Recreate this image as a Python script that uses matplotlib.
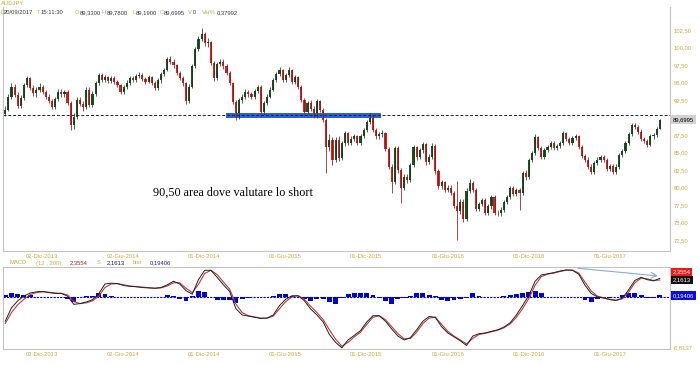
import matplotlib
matplotlib.use('Agg')
import matplotlib.pyplot as plt
import matplotlib.transforms as mtrans
import matplotlib.dates as mdates
import numpy as np
import pandas as pd

# weekly candles (AUDJPY, Sep 2013 - Sep 2017)
opens = [90.5, 91.1, 93.0, 94.4, 93.2, 91.6, 92.8, 94.6, 95.6, 94.2,
         93.5, 93.9, 94.4, 93.6, 93.0, 92.4, 91.5, 92.6, 93.7, 93.4,
         93.6, 92.1, 88.9, 90.1, 92.5, 92.0, 91.5, 94.0, 91.8, 93.4,
         94.9, 96.1, 95.4, 95.8, 95.2, 95.6, 95.1, 94.6, 93.6, 94.4,
         95.0, 95.6, 95.4, 95.9, 96.1, 95.5, 95.1, 95.8, 95.0, 94.2,
         95.3, 96.2, 96.8, 98.4, 98.0, 97.5, 96.4, 95.6, 94.9, 92.4,
         94.4, 97.4, 99.8, 101.2, 102.0, 100.6, 100.8, 97.8, 95.6, 97.6,
         98.0, 97.3, 96.4, 94.9, 92.2, 90.0, 92.5, 92.9, 93.7, 93.4,
         93.0, 93.8, 94.4, 90.8, 92.1, 93.0, 94.0, 95.4, 96.2, 96.8,
         95.4, 96.1, 96.8, 95.1, 95.8, 94.4, 92.5, 90.8, 92.1, 91.2,
         90.2, 92.3, 91.1, 89.6, 85.8, 86.8, 84.0, 86.8, 84.2, 86.3,
         87.8, 86.4, 86.9, 87.3, 86.4, 87.4, 88.2, 89.4, 90.1, 88.2,
         87.3, 87.6, 87.8, 85.5, 83.0, 80.8, 85.6, 82.5, 80.0, 81.5,
         81.1, 83.2, 85.8, 84.4, 85.3, 86.2, 83.6, 84.4, 86.0, 82.3,
         80.2, 80.8, 79.6, 80.0, 79.2, 77.4, 76.6, 78.0, 75.5, 79.5,
         80.6, 79.6, 76.9, 77.6, 78.2, 76.4, 77.3, 78.7, 76.4, 76.3,
         76.8, 77.9, 78.7, 79.9, 79.1, 79.6, 79.2, 82.1, 81.5, 83.9,
         84.9, 87.2, 85.6, 84.4, 85.4, 85.8, 86.4, 85.6, 85.9, 86.4,
         87.8, 86.9, 86.4, 87.1, 87.3, 85.8, 84.5, 84.0, 83.0, 82.2,
         83.5, 84.0, 84.3, 83.9, 82.6, 83.1, 82.2, 83.0, 84.6, 85.2,
         86.4, 87.6, 88.9, 88.6, 88.0, 86.9, 86.6, 86.1, 87.3, 87.5, 88.4]
highs = [91.6, 93.4, 94.9, 94.8, 93.6, 93.2, 95.0, 96.0, 95.8, 94.6,
         94.3, 94.9, 94.7, 93.9, 93.3, 92.7, 92.9, 94.1, 94.1, 94.0,
         93.9, 92.4, 90.6, 92.9, 93.0, 92.4, 94.4, 94.3, 93.8, 95.2,
         96.4, 96.3, 96.1, 96.0, 95.9, 95.9, 95.3, 94.8, 94.7, 95.3,
         95.9, 95.9, 96.2, 96.5, 96.3, 95.8, 96.1, 96.0, 95.2, 95.6,
         96.5, 97.1, 98.6, 98.8, 98.3, 97.7, 96.7, 95.9, 95.1, 94.8,
         97.7, 100.1, 101.6, 102.8, 102.2, 101.3, 101.0, 98.1, 98.0, 98.4,
         98.3, 97.6, 96.7, 95.1, 92.5, 92.8, 93.3, 94.1, 94.0, 93.7,
         94.1, 94.7, 94.6, 92.4, 93.3, 94.3, 95.7, 96.5, 97.2, 97.0,
         96.4, 97.2, 97.0, 96.1, 96.0, 94.6, 92.8, 92.4, 92.5, 91.6,
         92.6, 92.5, 91.4, 90.0, 87.6, 87.2, 87.2, 87.3, 86.7, 88.1,
         88.0, 87.3, 87.6, 87.5, 87.7, 88.5, 89.7, 90.6, 90.3, 88.5,
         88.0, 88.2, 88.0, 85.8, 83.3, 86.0, 85.9, 82.8, 81.9, 82.0,
         83.5, 86.1, 86.0, 85.6, 86.5, 86.4, 84.8, 86.3, 86.2, 82.6,
         81.1, 81.0, 80.4, 80.3, 79.5, 81.0, 78.4, 78.3, 79.9, 81.2,
         80.9, 79.9, 77.9, 78.5, 78.5, 77.6, 79.0, 78.9, 76.8, 77.2,
         78.2, 79.0, 80.2, 80.2, 79.9, 80.0, 82.4, 82.5, 84.2, 85.2,
         87.6, 87.4, 85.9, 85.7, 86.1, 86.7, 86.7, 86.2, 86.7, 88.1,
         88.0, 87.2, 87.4, 87.6, 87.5, 86.1, 84.8, 84.3, 83.3, 83.8,
         84.3, 84.6, 84.6, 84.2, 83.4, 83.4, 83.3, 84.9, 85.5, 86.7,
         87.9, 89.2, 89.2, 88.9, 88.3, 87.2, 86.9, 87.6, 87.8, 88.7, 89.8]
lows = [90.2, 90.9, 92.7, 93.0, 91.3, 91.3, 92.5, 94.3, 93.9, 93.1,
        93.0, 93.6, 93.3, 92.7, 92.1, 91.2, 91.2, 92.4, 93.0, 93.0,
        91.8, 88.2, 88.4, 89.8, 91.6, 91.0, 91.2, 91.5, 91.5, 93.1,
        94.6, 95.1, 95.1, 94.9, 95.0, 94.8, 94.3, 93.3, 93.3, 94.1,
        94.7, 95.1, 95.1, 95.6, 95.2, 94.8, 94.9, 94.7, 93.9, 93.9,
        95.0, 95.9, 96.6, 97.6, 97.1, 96.1, 95.3, 94.5, 91.9, 92.1,
        94.2, 97.1, 99.5, 100.9, 100.2, 100.1, 97.5, 95.2, 95.3, 97.3,
        96.9, 96.1, 94.6, 91.9, 89.6, 89.8, 92.1, 92.6, 93.0, 92.6,
        92.7, 93.5, 90.4, 90.5, 91.8, 92.8, 93.8, 95.1, 95.9, 95.1,
        95.1, 95.8, 94.8, 94.8, 94.1, 92.2, 90.5, 90.5, 90.9, 89.9,
        89.9, 90.8, 89.3, 82.1, 85.2, 83.2, 83.7, 83.8, 83.9, 86.0,
        86.1, 86.1, 86.6, 86.1, 86.1, 87.1, 87.9, 89.1, 87.9, 87.0,
        86.9, 87.2, 85.2, 82.6, 79.2, 80.5, 82.1, 77.8, 79.6, 80.7,
        80.8, 82.9, 84.0, 84.1, 85.0, 83.2, 83.3, 84.1, 82.0, 79.8,
        79.8, 79.3, 79.3, 78.9, 77.1, 72.5, 76.2, 75.1, 75.2, 79.2,
        79.3, 76.6, 76.6, 77.3, 76.1, 76.1, 77.0, 76.1, 75.9, 76.0,
        76.5, 77.6, 78.4, 78.8, 78.8, 76.8, 79.0, 81.1, 81.2, 83.6,
        84.6, 85.3, 84.1, 84.1, 85.1, 85.5, 85.3, 85.3, 85.6, 86.1,
        86.6, 86.1, 86.1, 86.8, 85.5, 84.2, 83.7, 82.7, 81.9, 81.9,
        83.2, 83.7, 83.6, 82.3, 82.3, 81.9, 81.9, 82.7, 84.3, 84.9,
        86.1, 87.3, 88.3, 87.7, 86.6, 86.3, 85.8, 85.9, 87.0, 87.2, 88.3]
closes = [91.1, 93.0, 94.4, 93.2, 91.6, 92.8, 94.6, 95.6, 94.2, 93.5,
          93.9, 94.4, 93.6, 93.0, 92.4, 91.5, 92.6, 93.7, 93.4, 93.6,
          92.1, 88.9, 90.1, 92.5, 92.0, 91.5, 94.0, 91.8, 93.4, 94.9,
          96.1, 95.4, 95.8, 95.2, 95.6, 95.1, 94.6, 93.6, 94.4, 95.0,
          95.6, 95.4, 95.9, 96.1, 95.5, 95.1, 95.8, 95.0, 94.2, 95.3,
          96.2, 96.8, 98.4, 98.0, 97.5, 96.4, 95.6, 94.9, 92.4, 94.4,
          97.4, 99.8, 101.2, 102.0, 100.6, 100.8, 97.8, 95.6, 97.6, 98.0,
          97.3, 96.4, 94.9, 92.2, 90.0, 92.5, 92.9, 93.7, 93.4, 93.0,
          93.8, 94.4, 90.8, 92.1, 93.0, 94.0, 95.4, 96.2, 96.8, 95.4,
          96.1, 96.8, 95.1, 95.8, 94.4, 92.5, 90.8, 92.1, 91.2, 90.2,
          92.3, 91.1, 89.6, 85.8, 86.8, 84.0, 86.8, 84.2, 86.3, 87.8,
          86.4, 86.9, 87.3, 86.4, 87.4, 88.2, 89.4, 90.1, 88.2, 87.3,
          87.6, 87.8, 85.5, 83.0, 80.8, 85.6, 82.5, 80.0, 81.5, 81.1,
          83.2, 85.8, 84.4, 85.3, 86.2, 83.6, 84.4, 86.0, 82.3, 80.2,
          80.8, 79.6, 80.0, 79.2, 77.4, 76.6, 78.0, 75.5, 79.5, 80.6,
          79.6, 76.9, 77.6, 78.2, 76.4, 77.3, 78.7, 76.4, 76.3, 76.8,
          77.9, 78.7, 79.9, 79.1, 79.6, 79.2, 82.1, 81.5, 83.9, 84.9,
          87.2, 85.6, 84.4, 85.4, 85.8, 86.4, 85.6, 85.9, 86.4, 87.8,
          86.9, 86.4, 87.1, 87.3, 85.8, 84.5, 84.0, 83.0, 82.2, 83.5,
          84.0, 84.3, 83.9, 82.6, 83.1, 82.2, 83.0, 84.6, 85.2, 86.4,
          87.6, 88.9, 88.6, 88.0, 86.9, 86.6, 86.1, 87.3, 87.5, 88.4, 89.7]

# MACD panel, one reading every two weeks
macd_line = [-3.1, -1.4, -0.5, 0.1, 0.5, 0.65, 0.7, 0.55, 0.45, 0.45,
             0.1, -0.95, -0.85, -0.65, -0.35, 0.4, 1.65, 1.75, 1.7, 1.45,
             1.35, 1.3, 1.2, 1.15, 1.1, 1.2, 1.55, 2.0, 1.65, 0.8,
             0.35, 2.2, 3.4, 3.4, 2.5, 1.55, 0.7, -1.5, -2.3, -2.45,
             -2.6, -2.75, -2.7, -2.3, -1.1, -0.3, 0.15, 0.15, -0.5, -1.55,
             -2.3, -3.2, -4.8, -5.8, -6.5, -5.5, -4.9, -4.3, -3.2, -2.4,
             -2.4, -3.1, -4.1, -5.0, -5.5, -5.2, -4.2, -3.1, -2.5, -2.6,
             -3.8, -4.6, -5.1, -5.6, -6.2, -5.0, -4.7, -4.6, -4.4, -4.2,
             -3.85, -3.3, -2.3, -1.1, 0.2, 2.0, 2.8, 2.95, 3.1, 3.3,
             3.45, 3.4, 2.9, 1.5, 0.45, 0.0, -0.15, -0.35, -0.45, -0.15,
             0.9, 2.1, 2.5, 2.2, 2.05, 2.36]
signal_line = [-3.4, -2.0, -1.0, -0.3, 0.3, 0.55, 0.65, 0.6, 0.5, 0.45,
               0.25, -0.6, -0.85, -0.75, -0.5, 0.1, 1.2, 1.65, 1.7, 1.55,
               1.4, 1.32, 1.25, 1.18, 1.12, 1.15, 1.4, 1.8, 1.8, 1.1,
               0.55, 1.6, 3.0, 3.4, 2.85, 1.9, 1.0, -0.9, -2.0, -2.4,
               -2.55, -2.7, -2.72, -2.45, -1.5, -0.6, 0.0, 0.15, -0.3, -1.2,
               -2.0, -2.9, -4.2, -5.4, -6.3, -5.8, -5.1, -4.5, -3.5, -2.6,
               -2.4, -2.9, -3.8, -4.7, -5.35, -5.3, -4.5, -3.4, -2.7, -2.6,
               -3.5, -4.4, -5.0, -5.5, -6.0, -5.3, -4.8, -4.65, -4.45, -4.25,
               -3.95, -3.45, -2.6, -1.5, -0.2, 1.5, 2.6, 2.9, 3.05, 3.25,
               3.4, 3.42, 3.05, 1.9, 0.75, 0.1, -0.1, -0.3, -0.42, -0.25,
               0.6, 1.8, 2.4, 2.3, 2.1, 2.16]
macd_hist = [0.3, 0.5, 0.4, 0.3, 0.2, 0.05, 0.05, -0.05, 0.02, -0.05,
             -0.3, -0.65, 0.05, 0.1, 0.15, 0.5, 0.35, 0.1, 0.0, -0.05,
             -0.05, -0.03, -0.05, -0.05, -0.03, 0.05, 0.2, 0.15, -0.3, -0.55,
             0.1, 0.8, 0.6, 0.0, -0.35, -0.4, -0.45, -0.8, -0.3, -0.08,
             -0.05, -0.05, 0.0, 0.15, 0.4, 0.35, 0.15, 0.05, -0.3, -0.55,
             -0.3, -0.3, -0.7, -0.9, -0.2, 0.35, 0.45, 0.5, 0.55, 0.3,
             -0.1, -0.5, -0.85, -0.3, -0.15, 0.1, 0.5, 0.45, 0.2, 0.1,
             -0.45, -0.5, -0.35, -0.3, -0.2, 0.5, 0.1, 0.05, -0.05, 0.05,
             0.15, 0.3, 0.4, 0.5, 0.6, 0.7, 0.5, 0.05, 0.05, 0.05,
             0.03, 0.0, -0.05, -0.4, -0.6, -0.3, -0.1, -0.1, -0.05, 0.2,
             0.45, 0.5, 0.3, -0.1, -0.1, 0.19]

tick_dates = ['2013-12-02', '2014-06-02', '2014-12-01', '2015-06-01',
              '2015-12-01', '2016-06-01', '2016-12-01', '2017-06-01']
tick_labels = ['02-Dic-2013', '02-Giu-2014', '01-Dic-2014', '01-Giu-2015',
               '01-Dic-2015', '01-Giu-2016', '01-Dic-2016', '01-Giu-2017']
price_ticks = [72.5, 75, 77.5, 80, 82.5, 85, 87.5, 92.5, 95, 97.5, 100, 102.5]

short_level = 90.3
band_low, band_high = 90.0, 90.6
last_price = 89.6995

dates = pd.date_range('2013-09-11', periods=len(closes), freq='7D')
macd_dates = dates[::2]

GOLD = '#cfa842'
UP = '#1c4f22'
DOWN = '#d42222'
SMALL = 4.2
plt.rcParams['font.family'] = ['Liberation Sans', 'DejaVu Sans']

fig = plt.figure(figsize=(7, 3.65), dpi=100)
ax = fig.add_axes([3 / 700, 114.5 / 365, 667 / 700, 243.5 / 365])
axm = fig.add_axes([3 / 700, 16 / 365, 667 / 700, 82 / 365])

# candles
o, h, l, c = (np.array(v) for v in (opens, highs, lows, closes))
up = c >= o
col = np.where(up, UP, DOWN)
wick = np.where(up, '#173a1a', '#7a1c1c')
ax.vlines(dates, l, h, colors=wick, lw=0.55)
ax.bar(dates, np.maximum(np.abs(c - o), 0.1), bottom=np.minimum(o, c),
       width=4.8, color=col, linewidth=0)

# 90.50 resistance zone
x0, x1 = pd.Timestamp('2015-01-20'), pd.Timestamp('2016-01-02')
ax.fill_between([x0, x1], band_low, band_high, color='#2c5fd6', lw=0)
ax.axhline(short_level, color='#222222', lw=0.7, ls=(0, (3, 2)))
ax.text(pd.Timestamp('2014-08-08'), 79.2, '90,50 area dove valutare lo short',
        family='Liberation Serif', fontsize=8.7, va='center', ha='left')

xmin, xmax = pd.Timestamp('2013-09-06'), pd.Timestamp('2017-10-13')
ax.set_xlim(xmin, xmax)
ax.set_ylim(71.0, 105.8)
ax.yaxis.tick_right()
ax.set_yticks(price_ticks)
ax.set_yticklabels([f'{p:.2f}'.replace('.', ',') for p in price_ticks])
ax.tick_params(axis='y', length=0, pad=2.5, labelsize=SMALL, labelcolor=GOLD)
ax.set_xticks([])
for s in ax.spines.values():
    s.set_color('#c4c4c4')
    s.set_linewidth(0.8)
ax.spines['top'].set_visible(False)

mix = mtrans.blended_transform_factory(ax.transAxes, ax.transData)
ax.text(1.004, last_price, '89,6995', transform=mix, fontsize=SMALL, va='center',
        ha='left', bbox=dict(boxstyle='square,pad=0.3', fc='#d2d2d2', ec='none'))

# MACD panel
axm.bar(macd_dates, macd_hist, width=11, color='#0000cc', linewidth=0)
axm.axhline(0, color='#0000cc', lw=0.8, ls=(0, (2, 1)))
axm.plot(macd_dates, signal_line, color='#c23a3a', lw=0.8)
axm.plot(macd_dates, macd_line, color='#222222', lw=0.7)
axm.annotate('', xy=(pd.Timestamp('2017-09-22'), 2.65),
             xytext=(pd.Timestamp('2017-03-14'), 3.69),
             arrowprops=dict(arrowstyle='->', color='#86aed4', lw=0.8))
axm.set_xlim(xmin, xmax)
axm.set_ylim(-6.65, 3.82)
axm.set_xticks([])
axm.set_yticks([])
for s in axm.spines.values():
    s.set_color('#c4c4c4')
    s.set_linewidth(0.8)

mixm = mtrans.blended_transform_factory(axm.transAxes, axm.transData)
for val, txt, bg in [(3.15, '2,3554', '#f01818'), (2.16, '2,1613', '#111111'),
                     (0.19, '0,19406', '#0a0ae6')]:
    axm.text(1.004, val, txt, transform=mixm, fontsize=SMALL, color='white',
             va='center', ha='left',
             bbox=dict(boxstyle='square,pad=0.3', fc=bg, ec='none'))
axm.text(1.004, -6.5, '-6,6137', transform=mixm, fontsize=SMALL, color=GOLD,
         va='center', ha='left')

# date labels above and below the MACD panel
dtrans = mtrans.blended_transform_factory(ax.transData, fig.transFigure)
for d, lab in zip(tick_dates, tick_labels):
    xd = mdates.date2num(pd.Timestamp(d))
    for yy in (108 / 365, 10 / 365):
        fig.text(xd, yy, lab, transform=dtrans, fontsize=SMALL,
                 color=GOLD, ha='center', va='center')

# header lines
def row(y, parts):
    for x, txt, colr in parts:
        fig.text(x / 700, 1 - y / 365, txt, fontsize=SMALL, color=colr,
                 ha='left', va='center')

DARK = '#3a3a3a'
row(3.5, [(1, 'AUDJPY', GOLD)])
row(12.5, [(0.5, 'D', GOLD), (4, '20/09/2017', DARK), (37, 'T', GOLD),
           (41, '15:11:30', DARK), (75, 'O', GOLD), (80, '89,3300', DARK),
           (102, 'H', GOLD), (106.5, '89,7800', DARK), (132.5, 'L', GOLD),
           (136, '89,1900', DARK), (160, 'C', GOLD), (164, '89,6995', DARK),
           (188, 'V', GOLD), (193, '0', DARK), (202, 'Var%', GOLD),
           (217, '0,37992', DARK)])
row(263, [(9, 'MACD', GOLD), (36, '(12 , 200):', GOLD), (70, '2,3554', '#b02020'),
          (97, 'S', GOLD), (107, '2,1613', '#1a1a40'), (133, 'hist', GOLD),
          (150, '0,19406', '#20208a')])

fig.savefig('out.png', dpi=100, facecolor='white')
